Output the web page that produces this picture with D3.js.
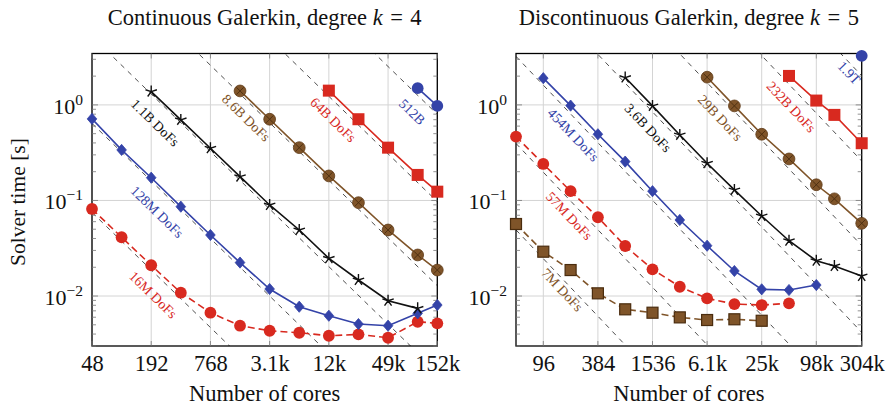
<!DOCTYPE html>
<html><head><meta charset="utf-8">
<script src="https://cdn.jsdelivr.net/npm/d3@7"></script>
<style>body{margin:0;background:#fff} svg{display:block}</style>
</head><body><svg id="c" width="888" height="406"></svg>
<script>
// ---------------- DATA ----------------
const cgTicks = [48,192,768,3072,12288,49152,155648];
const cgTickLabels = ["48","192","768","3.1k","12k","49k","152k"];
const dgTicks = [96,384,1536,6144,24576,98304,311296];
const dgTickLabels = ["96","384","1536","6.1k","25k","98k","304k"];
const yTicks = [1,0.1,0.01];
const yTickExp = ["0","\u22121","\u22122"];

// Continuous Galerkin k=4
const cg16M_cores  = [48,96,192,384,768,1536,3072,6144,12288,24576,49152,98304,155648];
const cg16M_time   = [0.0815,0.0412,0.0210,0.01083,0.00669,0.00489,0.00433,0.00413,0.00384,0.00397,0.00366,0.00538,0.00518];
const cg128M_cores = [48,96,192,384,768,1536,3072,6144,12288,24576,49152,98304,155648];
const cg128M_time  = [0.714,0.338,0.173,0.0861,0.0435,0.0224,0.01184,0.00773,0.00622,0.00509,0.00489,0.00659,0.00805];
const cg1_1B_cores = [192,384,768,1536,3072,6144,12288,24576,49152,98304];
const cg1_1B_time  = [1.377,0.697,0.352,0.1775,0.0897,0.0491,0.0248,0.01471,0.00893,0.00743];
const cg8_6B_cores = [1536,3072,6144,12288,24576,49152,98304,155648];
const cg8_6B_time  = [1.40,0.708,0.357,0.1806,0.0948,0.0491,0.0269,0.0187];
const cg64B_cores  = [12288,24576,49152,98304,155648];
const cg64B_time   = [1.41,0.708,0.357,0.185,0.1236];
const cg512B_cores = [98304,155648];
const cg512B_time  = [1.496,0.976];
// ideal-scaling reference (time at the first core count of each series)
const cgIdeal = [0.075,0.64,1.30,1.30,1.23,1.26];

// Discontinuous Galerkin k=5
const dg7M_cores   = [48,96,192,384,768,1536,3072,6144,12288,24576];
const dg7M_time    = [0.0567,0.0291,0.0187,0.01067,0.00726,0.00669,0.00598,0.00561,0.00571,0.00551];
const dg57M_cores  = [48,96,192,384,768,1536,3072,6144,12288,24576,49152];
const dg57M_time   = [0.466,0.241,0.125,0.0667,0.0334,0.01904,0.01251,0.00946,0.00824,0.00805,0.00839];
const dg454M_cores = [96,192,384,768,1536,3072,6144,12288,24576,49152,98304];
const dg454M_time  = [1.904,0.983,0.493,0.255,0.125,0.0625,0.0336,0.01828,0.01175,0.01156,0.01303];
const dg3_6B_cores = [768,1536,3072,6144,12288,24576,49152,98304,155648,311296];
const dg3_6B_time  = [1.932,0.976,0.485,0.245,0.129,0.0688,0.0379,0.0234,0.0206,0.0162];
const dg29B_cores  = [6144,12288,24576,49152,98304,155648,311296];
const dg29B_time   = [1.95,0.976,0.493,0.272,0.146,0.104,0.0577];
const dg232B_cores = [49152,98304,155648,311296];
const dg232B_time  = [2.01,1.11,0.786,0.397];
const dg1_9T_cores = [311296];
const dg1_9T_time  = [3.26];
const dgIdeal = [0.0492,0.395,1.61,1.69,1.71,1.64,2.02];

// ---------------- STYLE / LAYOUT ----------------
const FONT = "'Liberation Serif','Times New Roman',Tinos,'DejaVu Serif',serif";
const RED="#d8291f", BLUE="#3443a8", BROWN="#7f5429", BLACK="#111111";
const svg = d3.select("#c");
const Y0 = 53.5, Y1 = 346;
const yDomain = [0.003, 3.45];

const panels = [
  {title:["Continuous Galerkin, degree ","k","\u2004=\u20044"], x0:92, x1:437.3, dom:[48,155648],
   ticks:cgTicks, tickLabels:cgTickLabels, ideal:cgIdeal,
   series:[
    {c:cg16M_cores,t:cg16M_time,col:RED,mk:"circle",dash:true,lab:"16M DoFs",lx:153,ly:295},
    {c:cg128M_cores,t:cg128M_time,col:BLUE,mk:"diamond",dash:false,lab:"128M DoFs",lx:157,ly:212},
    {c:cg1_1B_cores,t:cg1_1B_time,col:BLACK,mk:"star",dash:false,lab:"1.1B DoFs",lx:155,ly:123},
    {c:cg8_6B_cores,t:cg8_6B_time,col:BROWN,mk:"otimes",dash:false,lab:"8.6B DoFs",lx:246,ly:118},
    {c:cg64B_cores,t:cg64B_time,col:RED,mk:"square",dash:false,lab:"64B DoFs",lx:333,ly:120},
    {c:cg512B_cores,t:cg512B_time,col:BLUE,mk:"circle",dash:false,lab:"512B",lx:412,ly:112}
   ]},
  {title:["Discontinuous Galerkin, degree ","k","\u2004=\u20045"], x0:516, x1:861.7, dom:[48,311296],
   ticks:dgTicks, tickLabels:dgTickLabels, ideal:dgIdeal,
   series:[
    {c:dg7M_cores,t:dg7M_time,col:BROWN,mk:"bsquare",dash:true,lab:"7M DoFs",lx:562,ly:290},
    {c:dg57M_cores,t:dg57M_time,col:RED,mk:"circle",dash:true,lab:"57M DoFs",lx:569,ly:216},
    {c:dg454M_cores,t:dg454M_time,col:BLUE,mk:"diamond",dash:false,lab:"454M DoFs",lx:573,ly:135},
    {c:dg3_6B_cores,t:dg3_6B_time,col:BLACK,mk:"star",dash:false,lab:"3.6B DoFs",lx:648,ly:128},
    {c:dg29B_cores,t:dg29B_time,col:BROWN,mk:"otimes",dash:false,lab:"29B DoFs",lx:720,ly:118},
    {c:dg232B_cores,t:dg232B_time,col:RED,mk:"square",dash:false,lab:"232B DoFs",lx:791,ly:107},
    {c:dg1_9T_cores,t:dg1_9T_time,col:BLUE,mk:"circle",dash:false,lab:"1.9T",lx:849,ly:73}
   ]}
];

function marker(g, mk, col, x, y){
  if(mk==="circle"){ g.append("circle").attr("cx",x).attr("cy",y).attr("r",5.9).attr("fill",col); }
  else if(mk==="diamond"){ g.append("path").attr("d",`M${x},${y-5.6}L${x+4.8},${y}L${x},${y+5.6}L${x-4.8},${y}Z`).attr("fill",col).attr("stroke",col).attr("stroke-width",0.8); }
  else if(mk==="square"){ g.append("rect").attr("x",x-6).attr("y",y-6).attr("width",12).attr("height",12).attr("fill",col); }
  else if(mk==="bsquare"){ g.append("rect").attr("x",x-5.5).attr("y",y-5.5).attr("width",11).attr("height",11).attr("fill",col).attr("stroke","#4a2c0e").attr("stroke-width",1.2); }
  else if(mk==="otimes"){
    g.append("circle").attr("cx",x).attr("cy",y).attr("r",5.9).attr("fill",col).attr("stroke","#5e3a17").attr("stroke-width",0.8);
    const d=3.6;
    g.append("path").attr("d",`M${x-d},${y-d}L${x+d},${y+d}M${x-d},${y+d}L${x+d},${y-d}`).attr("stroke","#4a2c0e").attr("stroke-width",0.9);
  }
  else if(mk==="star"){
    let p="";
    for(let i=0;i<5;i++){ const a=-Math.PI/2+i*2*Math.PI/5; p+=`M${x},${y}L${x+6*Math.cos(a)},${y+6*Math.sin(a)}`; }
    g.append("path").attr("d",p).attr("stroke",col).attr("stroke-width",1.4).attr("fill","none");
  }
}

panels.forEach((P,pi)=>{
  const x = d3.scaleLog().domain(P.dom).range([P.x0,P.x1]);
  const y = d3.scaleLog().domain(yDomain).range([Y1,Y0]);
  const g = svg.append("g");
  const cid = "clip"+pi;
  svg.append("clipPath").attr("id",cid).append("rect").attr("x",P.x0).attr("y",Y0).attr("width",P.x1-P.x0).attr("height",Y1-Y0);

  // grid
  const grid = g.append("g").attr("stroke","#d4d4d4").attr("stroke-width",1);
  P.ticks.forEach(v=>{ grid.append("line").attr("x1",x(v)).attr("x2",x(v)).attr("y1",Y0).attr("y2",Y1); });
  yTicks.forEach(v=>{ grid.append("line").attr("x1",P.x0).attr("x2",P.x1).attr("y1",y(v)).attr("y2",y(v)); });

  // ideal scaling lines
  const ig = g.append("g").attr("clip-path",`url(#${cid})`);
  P.series.forEach((s,i)=>{
    const a = P.ideal[i], p0 = s.c[0];
    const pts = P.dom.map(p=>[x(p), y(a*p0/p)]);
    ig.append("path").attr("d",d3.line()(pts)).attr("stroke","#222").attr("stroke-width",0.8)
      .attr("stroke-dasharray","5,5").attr("fill","none");
  });

  // series lines
  const lg = g.append("g").attr("clip-path",`url(#${cid})`);
  P.series.forEach(s=>{
    const pts = s.c.map((c,i)=>[x(c),y(s.t[i])]);
    if(pts.length>1) lg.append("path").attr("d",d3.line()(pts)).attr("stroke",s.col).attr("stroke-width",1.6)
      .attr("fill","none").attr("stroke-dasharray",s.dash?"7,4":null);
  });

  // frame + ticks
  const fg = g.append("g");
  fg.append("rect").attr("x",P.x0).attr("y",Y0).attr("width",P.x1-P.x0).attr("height",Y1-Y0)
    .attr("fill","none").attr("stroke","#000").attr("stroke-width",1.3);
  const tk = fg.append("g").attr("stroke","#777").attr("stroke-width",0.8);
  P.ticks.forEach(v=>{
    tk.append("line").attr("x1",x(v)).attr("x2",x(v)).attr("y1",Y1).attr("y2",Y1-5);
    tk.append("line").attr("x1",x(v)).attr("x2",x(v)).attr("y1",Y0).attr("y2",Y0+5);
  });
  for(let e=-3;e<=0;e++){
    for(let m=1;m<=9;m++){
      const v=m*Math.pow(10,e); if(v<yDomain[0]||v>yDomain[1]) continue;
      const L = m===1?6:4;
      tk.append("line").attr("x1",P.x0).attr("x2",P.x0+L).attr("y1",y(v)).attr("y2",y(v));
      tk.append("line").attr("x1",P.x1).attr("x2",P.x1-L).attr("y1",y(v)).attr("y2",y(v));
    }
  }

  // series labels (rotated along ideal slope)
  const ang = Math.atan2(y(1)-y(4), x(4*P.dom[0])-x(P.dom[0]))*180/Math.PI;
  P.series.forEach(s=>{
    g.append("text").attr("transform",`translate(${s.lx},${s.ly}) rotate(${ang})`)
      .attr("text-anchor","middle").attr("dominant-baseline","central").attr("font-family",FONT)
      .attr("font-size",14).attr("fill",s.col).text(s.lab);
  });

  // markers
  const mg = g.append("g");
  P.series.forEach(s=>{ s.c.forEach((c,i)=>marker(mg,s.mk,s.col,x(c),y(s.t[i]))); });

  // x tick labels
  const xa = d3.axisBottom(x).tickValues(P.ticks).tickFormat((d,i)=>P.tickLabels[i]).tickSize(0).tickPadding(0);
  const xg = svg.append("g").attr("transform",`translate(0,371)`).call(xa).attr("font-family",FONT);
  xg.select(".domain").remove();
  xg.selectAll("text").attr("font-size",22.5).attr("fill","#111").attr("font-family",FONT).attr("dy",0).attr("y",0);

  // y tick labels
  yTicks.forEach((v,i)=>{
    const t = svg.append("text").attr("x",P.x0-9).attr("y",y(v)+9).attr("text-anchor","end")
      .attr("font-family",FONT).attr("font-size",22).attr("fill","#111");
    t.append("tspan").text("10");
    t.append("tspan").attr("dy",-9).attr("font-size",15.5).text(yTickExp[i]);
  });

  // title
  const cx = (P.x0+P.x1)/2;
  const tt = svg.append("text").attr("x",cx).attr("y",25).attr("text-anchor","middle")
    .attr("font-family",FONT).attr("font-size",22.5).attr("fill","#111");
  tt.append("tspan").text(P.title[0]);
  tt.append("tspan").attr("font-style","italic").text(P.title[1]);
  tt.append("tspan").text(P.title[2]);

  // x axis label
  svg.append("text").attr("x",cx).attr("y",401).attr("text-anchor","middle").attr("font-family",FONT)
    .attr("font-size",22.5).attr("fill","#111").text("Number of cores");
});

svg.append("text").attr("transform","translate(25,202) rotate(-90)").attr("text-anchor","middle")
  .attr("font-family",FONT).attr("font-size",21.5).attr("fill","#111").text("Solver time [s]");
</script></body></html>
